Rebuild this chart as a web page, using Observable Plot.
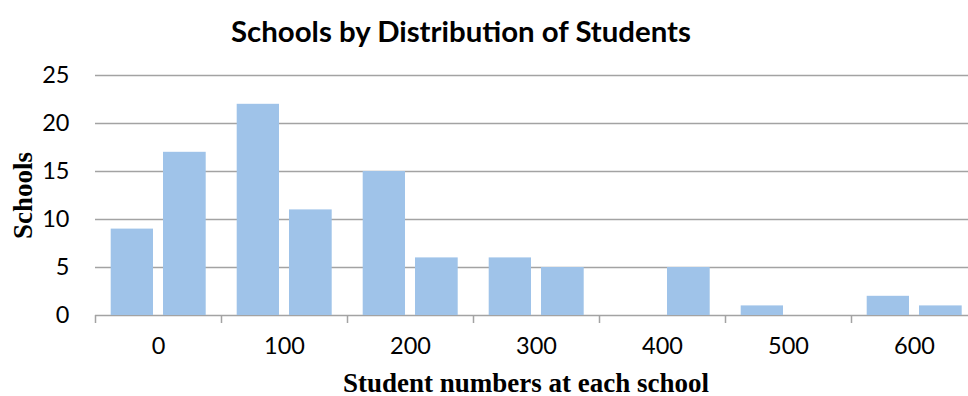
<!DOCTYPE html>
<html>
<head>
<meta charset="utf-8">
<script src="https://cdn.jsdelivr.net/npm/d3@7"></script>
<script src="https://cdn.jsdelivr.net/npm/@observablehq/plot@0.6"></script>
<style>
  body { margin: 0; background: #fff; width: 968px; height: 396px; overflow: hidden; }
  #title {
    height: 56px; box-sizing: border-box; padding-top: 16px; padding-right: 46px;
    font: bold 29.4px Lato, sans-serif; line-height: 30px; text-align: center; color: #000;
  }
</style>
</head>
<body>
<div id="title">Schools by Distribution of Students</div>
<div id="chart"></div>
<script>
// Student-number groups (hundreds) and school counts for the two 50-wide halves of each group
const categories = [0, 100, 200, 300, 400, 500, 600];
const lowerHalf = [9, 22, 15, 6, 0, 1, 2];
const upperHalf = [17, 11, 6, 5, 5, 0, 1];
const yTicks = [0, 5, 10, 15, 20, 25];

const half = 50;
const lowerRows = categories.map((c, i) => ({category: c, schools: lowerHalf[i]}));
const upperRows = categories.map((c, i) => ({category: c, schools: upperHalf[i]}));
const boundaries = categories.map(c => c - half);

const barFill = "#9fc3e9";
const barShadow = "filter: drop-shadow(1px 1px 1px rgba(0,0,0,0.18))";
const gridColor = "#a3a3a3";
const serif = "'Liberation Serif', serif";

const chart = Plot.plot({
  width: 968,
  height: 340,
  marginLeft: 95,
  marginRight: 0,
  marginTop: 19,
  marginBottom: 81,
  style: {fontFamily: "Lato, sans-serif", fontSize: "23.5px", color: "#000", background: "#fff"},
  x: {domain: [categories[0] - half, categories[categories.length - 1] + half], range: [95, 977], label: null},
  y: {domain: [0, 25], range: [259, 19], label: null},
  marks: [
    Plot.ruleY(yTicks, {stroke: gridColor, strokeWidth: 1.5}),
    Plot.rectY(lowerRows, {
      x1: d => d.category - half, x2: d => d.category, y: "schools",
      fill: barFill, insetLeft: 15.7, insetRight: 5, style: barShadow
    }),
    Plot.rectY(upperRows, {
      x1: d => d.category, x2: d => d.category + half, y: "schools",
      fill: barFill, insetLeft: 5, insetRight: 15.3, style: barShadow
    }),
    Plot.axisX({ticks: boundaries, tickSize: 8, tickFormat: () => "", stroke: gridColor, strokeWidth: 1.5, strokeOpacity: 1, label: null}),
    Plot.axisX({ticks: categories, tickSize: 0, tickPadding: 22, fontSize: 23.5, fill: "#000", label: null}),
    Plot.axisY({ticks: yTicks, tickSize: 0, tickPadding: 26, fontSize: 23.5, fill: "#000", label: null}),
    Plot.text(["Schools"], {
      frameAnchor: "left", dx: -72, rotate: -90, textAnchor: "middle", lineAnchor: "middle",
      fontFamily: serif, fontWeight: "bold", fontSize: 27, fill: "#000"
    }),
    Plot.text(["Student numbers at each school"], {
      frameAnchor: "bottom", dx: -6, dy: 76, textAnchor: "middle", lineAnchor: "bottom",
      fontFamily: serif, fontWeight: "bold", fontSize: 27, fill: "#000"
    })
  ]
});
document.getElementById("chart").append(chart);
</script>
</body>
</html>
